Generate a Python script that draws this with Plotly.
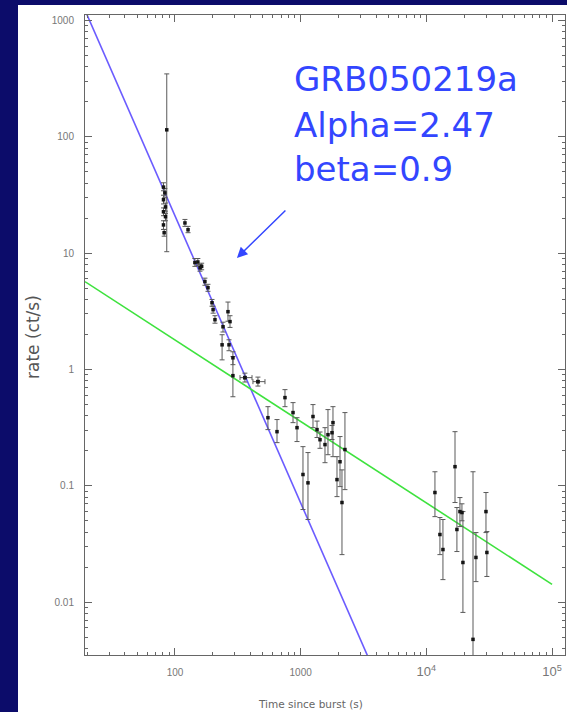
import plotly.graph_objects as go
import math

# ---- data ----
t_sec = [86, 81, 83, 81, 84, 81, 84, 81, 82, 120, 127, 144, 152, 158, 163, 173, 183, 197, 201, 208,
         264, 274, 241, 237, 269, 289, 289, 360, 457, 549, 648, 750, 869, 935, 1043, 1143, 1253,
         1349, 1425, 1561, 1649, 1775, 1807, 2055, 1945, 2250, 2131, 11700, 12820, 13550, 16900,
         17500, 18500, 19190, 19540, 23500, 24800, 29800, 30300]
rate = [115, 37, 33, 28.8, 25, 22.7, 20.6, 17.5, 15, 18.2, 15.9, 8.3, 8.4, 7.5, 7.7, 5.7, 5.05, 3.75,
        3.27, 2.68, 3.14, 2.58, 2.33, 1.63, 1.63, 1.26, 0.885, 0.851, 0.786, 0.385, 0.292, 0.573,
        0.426, 0.316, 0.125, 0.106, 0.394, 0.304, 0.249, 0.226, 0.275, 0.286, 0.349, 0.161, 0.113,
        0.205, 0.0718, 0.0875, 0.0381, 0.0283, 0.146, 0.0421, 0.060, 0.0589, 0.0219, 0.00478,
        0.0242, 0.060, 0.0267]
rate_hi = [348, 40.3, 36, 31.5, 27, 24.5, 22, 19, 16, 19.5, 17, 9, 9, 8, 8.2, 6.1, 5.4, 4.0, 3.5, 2.9,
           3.8, 2.9, 2.55, 1.99, 1.8, 1.42, 1.29, 0.93, 0.86, 0.479, 0.371, 0.671, 0.519, 0.385,
           0.217, 0.193, 0.499, 0.36, 0.29, 0.316, 0.452, 0.33, 0.479, 0.265, 0.178, 0.426, 0.137,
           0.132, 0.0533, 0.0513, 0.292, 0.065, 0.0792, 0.07, 0.060, 0.132, 0.0396, 0.0875, 0.0404]
rate_lo = [10.3, 34.4, 30, 26.5, 23, 21, 19, 16, 14, 17, 15, 7.7, 7.8, 7, 7.2, 5.3, 4.7, 3.5, 3.05, 2.5,
           2.6, 2.3, 2.1, 1.21, 1.45, 1.10, 0.583, 0.78, 0.72, 0.304, 0.235, 0.479, 0.349, 0.240,
           0.0625, 0.0513, 0.316, 0.26, 0.21, 0.158, 0.185, 0.25, 0.178, 0.0984, 0.0807, 0.0927,
           0.0256, 0.0543, 0.0256, 0.0156, 0.0718, 0.0272, 0.0446, 0.05, 0.00815, 0.003, 0.0150,
           0.0396, 0.0166]

# points with visible horizontal (time) error bars
tx_sec = [360, 457]
tx_rate = [0.851, 0.786]
tx_lo = [329, 417]
tx_hi = [410, 520]

# fitted power laws (end points of the drawn lines)
steep_t = [19.2, 3400]
steep_r = [1236, 0.00346]
flat_t = [19.2, 100000]
flat_r = [5.7, 0.0142]

x_tickvals = [100, 1000, 10000, 100000]
x_ticktext = ["100", "1000",
              "<span style='font-size:13px'>10<sup>4</sup></span>",
              "<span style='font-size:13px'>10<sup>5</sup></span>"]
y_tickvals = [0.01, 0.1, 1, 10, 100, 1000]
y_ticktext = ["0.01", "0.1", "1", "10", "100", "1000"]

NAVY = "#0c0c6a"
BLUE_TXT = "#3346ff"
AX = "#666666"

fig = go.Figure()

fig.add_trace(go.Scatter(
    x=steep_t, y=steep_r, mode="lines",
    line=dict(color="#6b5cff", width=1.6), hoverinfo="skip", showlegend=False))
fig.add_trace(go.Scatter(
    x=flat_t, y=flat_r, mode="lines",
    line=dict(color="#3ee23e", width=1.6), hoverinfo="skip", showlegend=False))

fig.add_trace(go.Scatter(
    x=t_sec, y=rate, mode="markers",
    marker=dict(symbol="square", size=3.5, color="#151515"),
    error_y=dict(type="data", symmetric=False,
                 array=[h - v for h, v in zip(rate_hi, rate)],
                 arrayminus=[v - l for v, l in zip(rate, rate_lo)],
                 color="#5a5a5a", thickness=1, width=2.5),
    showlegend=False))
fig.add_trace(go.Scatter(
    x=tx_sec, y=tx_rate, mode="markers",
    marker=dict(symbol="square", size=3.5, color="#151515"),
    error_x=dict(type="data", symmetric=False,
                 array=[h - v for h, v in zip(tx_hi, tx_sec)],
                 arrayminus=[v - l for v, l in zip(tx_sec, tx_lo)],
                 color="#5a5a5a", thickness=1, width=2.5),
    showlegend=False))

x_minor = [m * 10 ** d for d in range(1, 6) for m in range(2, 10)]
y_minor = [m * 10.0 ** d for d in range(-3, 4) for m in range(2, 10)]

fig.update_xaxes(
    type="log", range=[1.284, 5.103],
    showline=True, linecolor=AX, linewidth=1, mirror="allticks",
    ticks="inside", ticklen=7, tickcolor=AX, tickwidth=1,
    tickmode="array", tickvals=x_tickvals, ticktext=x_ticktext,
    tickfont=dict(family="Liberation Sans, Arial", size=10, color="#777777"),
    ticklabelstandoff=8,
    minor=dict(ticks="inside", ticklen=3, tickcolor=AX, tickmode="array", tickvals=x_minor,
               showgrid=False),
    showgrid=False, zeroline=False)
fig.update_yaxes(
    type="log", range=[-2.455, 3.048],
    showline=True, linecolor=AX, linewidth=1, mirror="allticks",
    ticks="inside", ticklen=7, tickcolor=AX, tickwidth=1,
    tickmode="array", tickvals=y_tickvals, ticktext=y_ticktext,
    tickfont=dict(family="Liberation Sans, Arial", size=10, color="#777777"),
    ticklabelstandoff=8,
    minor=dict(ticks="inside", ticklen=3, tickcolor=AX, tickmode="array", tickvals=y_minor,
               showgrid=False),
    showgrid=False, zeroline=False)

# white slide panel
fig.add_shape(type="rect", xref="paper", yref="paper",
              x0=(18 - 85) / 480, x1=(570 - 85) / 480,
              y0=(655 - 715) / 640, y1=(655 - 5) / 640,
              fillcolor="white", line=dict(width=0), layer="below")

def py(p):
    return (655 - p) / 640

def px(p):
    return (p - 85) / 480

for txt, yc in [("GRB050219a", 79), ("Alpha=2.47", 125), ("beta=0.9", 169)]:
    fig.add_annotation(text=txt, xref="paper", yref="paper", x=px(292), y=py(yc),
                       xanchor="left", yanchor="middle", showarrow=False,
                       font=dict(family="DejaVu Sans", size=34, color=BLUE_TXT))

fig.add_annotation(x=math.log10(311), y=math.log10(9.1), xref="x", yref="y", text="",
                   showarrow=True, ax=50, ay=-49, arrowhead=2, arrowsize=1.4,
                   arrowwidth=1.5, arrowcolor=BLUE_TXT)

fig.add_annotation(text="rate (ct/s)", xref="paper", yref="paper", x=px(33), y=py(337),
                   xanchor="center", yanchor="middle",
                   textangle=-90, showarrow=False,
                   font=dict(family="DejaVu Sans", size=17, color="#555555"))
fig.add_annotation(text="Time since burst (s)", xref="paper", yref="paper", x=px(310), y=py(704),
                   xanchor="center", yanchor="middle", showarrow=False,
                   font=dict(family="DejaVu Sans", size=10.5, color="#666666"))

fig.update_layout(
    width=567, height=712,
    margin=dict(l=85, r=2, t=15, b=57),
    paper_bgcolor=NAVY, plot_bgcolor="white",
    showlegend=False)

fig.write_html("out.html")
